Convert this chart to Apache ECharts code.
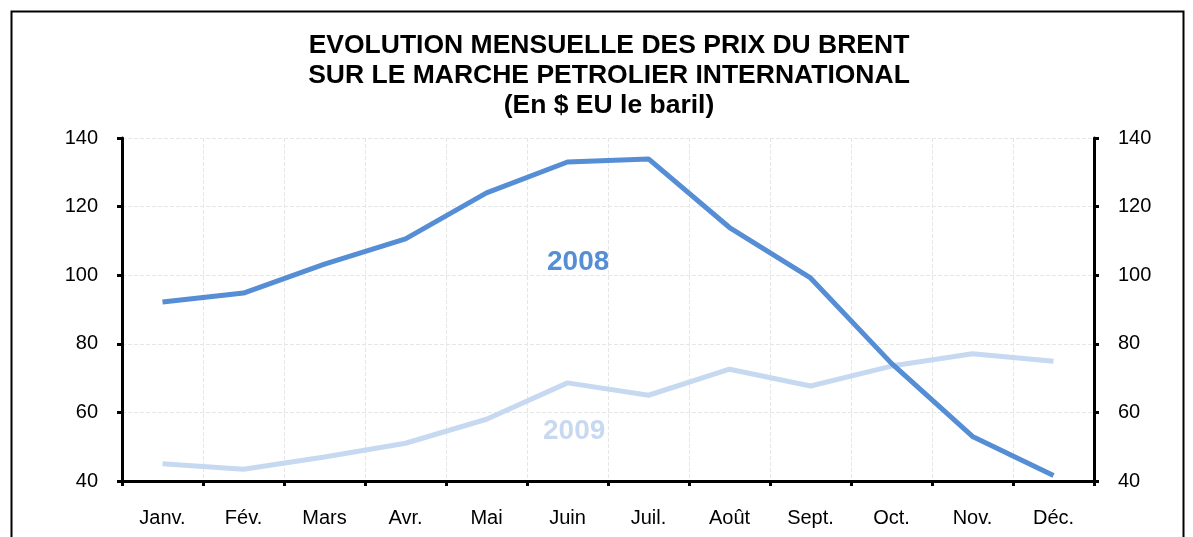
<!DOCTYPE html>
<html>
<head>
<meta charset="utf-8">
<script src="https://cdn.jsdelivr.net/npm/echarts@6/dist/echarts.min.js"></script>
<style>html,body{margin:0;padding:0;background:#fff;}#c{width:1193px;height:537px;}</style>
</head>
<body>
<div id="c"></div>
<script>
const categories = ['Janv.','Fév.','Mars','Avr.','Mai','Juin','Juil.','Août','Sept.','Oct.','Nov.','Déc.'];
const brent2008 = [92.2, 94.8, 103.2, 110.6, 124.0, 133.0, 133.9, 113.9, 99.2, 74.3, 53.0, 41.6];
const brent2009 = [45.0, 43.4, 47.0, 51.0, 58.0, 68.6, 65.0, 72.6, 67.7, 73.5, 77.1, 74.9];
const titleLines = ['EVOLUTION MENSUELLE DES PRIX DU BRENT', 'SUR LE MARCHE PETROLIER INTERNATIONAL', '(En $ EU le baril)'];

const chart = echarts.init(document.getElementById('c'), null, {renderer: 'canvas'});
const font = 'Arial, "Liberation Sans", sans-serif';
const yAxisCommon = {
  type: 'value', min: 40, max: 140, interval: 20,
  axisLine: {show: true, lineStyle: {color: '#000', width: 3}},
  axisTick: {show: true, length: 5, lineStyle: {color: '#000', width: 3}},
  axisLabel: {color: '#000', fontSize: 20, fontFamily: font, margin: 24},
};
chart.setOption({
  animation: false,
  title: {
    text: titleLines.join('\n'),
    left: 604, top: 26, textAlign: 'center',
    textStyle: {fontSize: 26.5, fontWeight: 'bold', fontFamily: font, color: '#000', lineHeight: 30}
  },
  grid: {left: 122, right: 99, top: 138, bottom: 56},
  xAxis: {
    type: 'category', data: categories, boundaryGap: true,
    axisLine: {lineStyle: {color: '#000', width: 3}},
    axisTick: {show: true, length: 5, alignWithLabel: false, lineStyle: {color: '#000', width: 3}},
    axisLabel: {color: '#000', fontSize: 20, fontFamily: font, margin: 27},
    splitLine: {show: true, lineStyle: {color: '#e6e6e6', type: 'dashed', width: 1}}
  },
  yAxis: [
    Object.assign({}, yAxisCommon, {position: 'left',
      splitLine: {show: true, lineStyle: {color: '#e6e6e6', type: 'dashed', width: 1}}}),
    Object.assign({}, yAxisCommon, {position: 'right', splitLine: {show: false}})
  ],
  series: [
    {name: '2009', type: 'line', data: brent2009, yAxisIndex: 0, symbol: 'none',
     lineStyle: {color: '#c6d9f1', width: 5}, z: 2},
    {name: '2008', type: 'line', data: brent2008, yAxisIndex: 0, symbol: 'none',
     lineStyle: {color: '#558ed5', width: 5}, z: 3}
  ],
  graphic: [
    {type: 'rect', left: 9, top: 9, shape: {width: 1172, height: 560},
     style: {fill: 'none', stroke: '#000', lineWidth: 2}, z: 100},
    {type: 'text', left: 547, top: 248, style: {text: '2008', fill: '#558ed5', font: 'bold 28px ' + font}},
    {type: 'text', left: 543, top: 417, style: {text: '2009', fill: '#c6d9f1', font: 'bold 28px ' + font}}
  ]
});
</script>
</body>
</html>
